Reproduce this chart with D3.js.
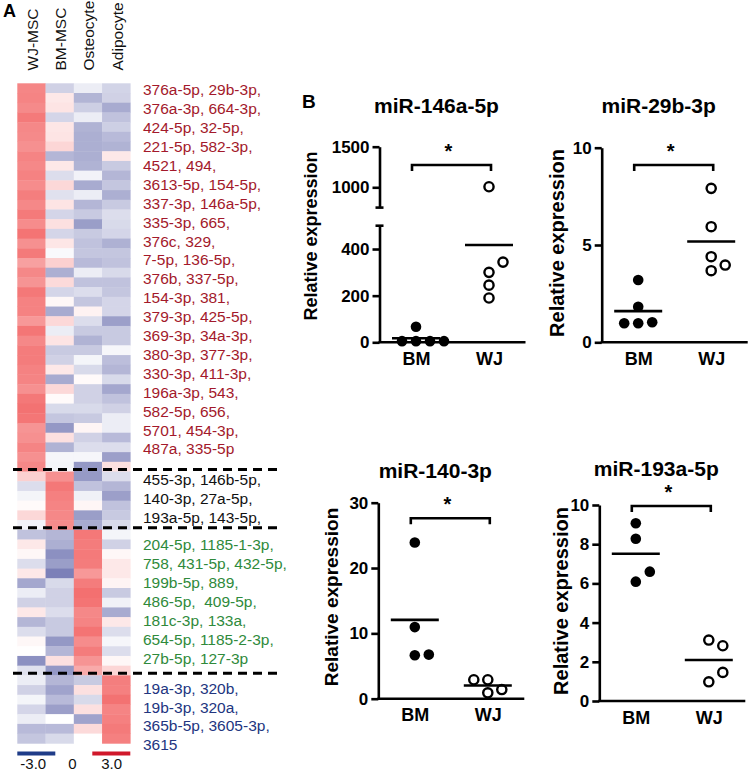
<!DOCTYPE html>
<html><head><meta charset="utf-8">
<script src="https://cdn.jsdelivr.net/npm/d3@7"></script>
<style>
body{margin:0;background:#fff;}
svg{display:block;font-family:"Liberation Sans",Arial,Helvetica,sans-serif;}
</style></head><body>
<svg id="chart" width="750" height="773"></svg>
<script>
// ---------------- DATA ----------------
const columns = ["WJ-MSC", "BM-MSC", "Osteocyte", "Adipocyte"];

// log-ratio values (-3..3) per miRNA row, 4 columns each
const heatRed = [
 [1.86,-0.79,-0.32,-0.75],[1.89,0.35,-1.29,-0.79],[1.80,0.42,-0.84,-1.46],[2.05,-0.72,-0.32,-1.06],
 [1.83,0.38,-1.32,-0.84],[1.80,0.42,-1.39,-1.19],[1.71,0.63,-1.39,-1.32],[1.89,-1.26,-1.39,0.35],
 [1.83,0.35,-1.32,-0.92],[1.92,-0.59,-0.22,-1.26],[1.77,0.60,-1.46,-0.99],[1.98,-0.52,-0.32,-1.39],
 [1.83,0.42,-1.26,-0.92],[2.05,-0.72,-0.92,-0.59],[1.77,0.48,-1.69,-0.65],[2.14,-0.72,-0.92,-0.72],
 [1.71,0.38,-1.06,-1.35],[2.05,-0.10,-0.99,-0.99],[1.46,0.72,-1.19,-1.06],[1.83,-1.39,-0.32,-0.65],
 [1.65,0.57,-1.06,-1.06],[2.08,-0.72,-0.59,-0.99],[1.92,0.12,-0.99,-0.72],[1.92,-1.46,0.20,-0.72],
 [1.58,0.60,-0.59,-1.66],[2.11,-0.32,-0.92,-0.92],[1.83,0.42,-1.32,-0.92],[2.02,-0.92,-0.92,-0.15],
 [2.02,-0.79,-0.18,-1.12],[1.92,0.35,-0.65,-1.26],[1.89,-1.46,0.08,-0.65],[1.71,0.60,-0.79,-1.53],
 [2.08,0.08,-0.79,-1.06],[2.17,-0.65,-0.65,-0.79],[2.11,-0.99,-0.92,-0.32],[1.65,-1.79,0.15,-0.32],
 [1.71,0.48,-0.79,-1.19],[1.89,-1.32,-0.59,-0.59],[1.71,-0.15,-0.15,-1.66],[1.83,-0.18,-1.79,0.48]
];
const heatBlack = [
 [0.72,1.71,-1.76,-0.59],[-0.59,2.08,-1.06,-1.26],[-0.18,1.95,-0.25,-1.66],
 [0.08,1.89,0.14,-1.06],[0.60,1.83,-1.69,-0.92],[-0.20,1.77,-1.46,-0.65]
];
const heatGreen = [
 [-1.06,-1.26,2.08,-0.18],[0.35,-1.39,2.02,-0.79],[0.12,-1.93,2.05,0.12],[-0.59,-1.69,2.02,0.35],
 [0.35,-2.20,1.58,0.35],[-1.53,-0.65,2.02,0.17],[-0.32,-0.79,2.20,-0.92],[-0.79,-0.79,2.14,-0.25],
 [0.35,-0.59,1.83,-1.46],[-1.26,-0.92,1.89,0.35],[-0.59,-0.92,2.14,-0.59],[0.12,-1.79,1.77,-0.15],
 [0.02,-1.26,2.02,-0.59],[-1.93,0.48,1.65,0.12],[-0.52,-1.79,1.31,0.63]
];
const heatBlue = [
 [-0.32,-1.26,-0.92,1.98],[-0.79,-1.59,0.48,1.95],[-0.18,-1.19,-0.65,2.17],[-0.72,-1.66,0.48,1.89],
 [-0.32,0.00,-1.59,1.95],[-1.19,-1.19,0.57,2.05],[-0.99,-0.65,0.00,1.95]
];

const redLabels = ["376a-5p, 29b-3p,","376a-3p, 664-3p,","424-5p, 32-5p,","221-5p, 582-3p,","4521, 494,",
 "3613-5p, 154-5p,","337-3p, 146a-5p,","335-3p, 665,","376c, 329,","7-5p, 136-5p,","376b, 337-5p,",
 "154-3p, 381,","379-3p, 425-5p,","369-3p, 34a-3p,","380-3p, 377-3p,","330-3p, 411-3p,","196a-3p, 543,",
 "582-5p, 656,","5701, 454-3p,","487a, 335-5p"];
const blackLabels = ["455-3p, 146b-5p,","140-3p, 27a-5p,","193a-5p, 143-5p,"];
const greenLabels = ["204-5p, 1185-1-3p,","758, 431-5p, 432-5p,","199b-5p, 889,","486-5p,  409-5p,",
 "181c-3p, 133a,","654-5p, 1185-2-3p,","27b-5p, 127-3p"];
const blueLabels = ["19a-3p, 320b,","19b-3p, 320a,","365b-5p, 3605-3p,","3615"];

const legendValues = [-3, 0, 3];
const legendLabels = ["-3.0", "0", "3.0"];

const plotTitles = ["miR-146a-5p", "miR-29b-3p", "miR-140-3p", "miR-193a-5p"];
const groupsBW = ["BM", "WJ"];
const bm146 = [67, 5, 5, 5, 5];
const wj146 = [1007, 300, 344, 245, 190];
const bm29 = [3.2, 1.83, 0.98, 1.03, 0.98];
const wj29 = [7.91, 5.94, 3.68, 3.97, 4.40];
const bm140 = [23.9, 10.96, 6.65, 6.75];
const wj140 = [0.9, 1.4, 2.9, 2.9];
const bm193 = [9.07, 8.28, 6.09, 6.6];
const wj193 = [0.98, 1.46, 3.11, 2.82];
const ticks146Low = [0, 200, 400];
const ticks146High = [1000, 1500];
const ticks29 = [0, 5, 10];
const ticks140 = [0, 10, 20, 30];
const ticks193 = [0, 2, 4, 6, 8, 10];

// ---------------- LAYOUT ----------------
const svg = d3.select("#chart");
const FONT = '"Liberation Sans",Arial,Helvetica,sans-serif';

// Panel labels
svg.append("text").attr("x", 3).attr("y", 17).attr("font-size", 18).attr("font-weight", "bold").text("A");
svg.append("text").attr("x", 302).attr("y", 108).attr("font-size", 19).attr("font-weight", "bold").text("B");

// ---- Heatmap ----
const heatGroups = [heatRed, heatBlack, heatGreen, heatBlue];
const rows = heatGroups.flat();
const xH = d3.scaleBand().domain(columns).range([17.3, 130.3]);
const yH = d3.scaleBand().domain(d3.range(rows.length)).range([83.3, 743.3]);
const color = d3.scaleLinear().domain([-3, 0, 3]).range(["#4c529e", "#ffffff", "#ef3c3c"]).clamp(true);

const cells = [];
rows.forEach((r, i) => r.forEach((v, j) => cells.push({i, c: columns[j], v})));
svg.append("g").selectAll("rect").data(cells).join("rect")
  .attr("x", d => xH(d.c)).attr("y", d => yH(d.i))
  .attr("width", xH.bandwidth() + 0.3).attr("height", yH.bandwidth() + 0.4)
  .attr("fill", d => color(d.v));

// column headers
svg.append("g").selectAll("text").data(columns).join("text")
  .attr("transform", d => `translate(${xH(d) + xH.bandwidth() / 2 + 6.5},70.5) rotate(-90)`)
  .attr("font-size", 15.5).attr("fill", "#111").text(d => d);

// group separators
const bounds = d3.cumsum(heatGroups.map(g => g.length)).slice(0, 3);
svg.append("g").selectAll("line").data(bounds).join("line")
  .attr("x1", 13).attr("x2", 278)
  .attr("y1", d => yH(d) - 2).attr("y2", d => yH(d) - 2)
  .attr("stroke", "#000").attr("stroke-width", 3).attr("stroke-dasharray", "9,6");

// row labels
const labelSets = [
  {lines: redLabels, color: "#a3192b", start: 90},
  {lines: blackLabels, color: "#111111", start: 480},
  {lines: greenLabels, color: "#2f8a3b", start: 545},
  {lines: blueLabels, color: "#22357f", start: 688.3}
];
labelSets.forEach(s => {
  svg.append("g").selectAll("text").data(s.lines).join("text")
    .attr("x", 143).attr("y", (d, i) => s.start + i * 18.9 + 5.3)
    .attr("font-size", 15.5).attr("fill", s.color).attr("xml:space", "preserve")
    .text(d => d);
});

// colour legend
const legX = d3.scaleLinear().domain([-3, 3]).range([33.3, 111.7]);
svg.append("rect").attr("x", xH.range()[0]).attr("y", 751.5).attr("width", 38).attr("height", 4).attr("fill", "#1f3c88");
svg.append("rect").attr("x", xH.range()[1] - 38).attr("y", 751.5).attr("width", 38).attr("height", 4).attr("fill", "#d0182b");
svg.append("g").selectAll("text").data(legendValues).join("text")
  .attr("x", d => legX(d)).attr("y", 768.5).attr("text-anchor", "middle")
  .attr("font-size", 15).attr("fill", "#111").text((d, i) => legendLabels[i]);

// ---- Scatter plots ----
function dodge(vals, yf, step, minD) {
  const placed = [];
  return vals.map(v => {
    const y = yf(v);
    for (let k = 0; k < 30; k++) {
      const off = k === 0 ? 0 : (k % 2 ? 1 : -1) * Math.ceil(k / 2) * step;
      if (placed.every(p => Math.hypot(p.dx - off, p.y - y) >= minD)) {
        placed.push({dx: off, y});
        return {v, y, dx: off};
      }
    }
  });
}

const plots = [
  {title: plotTitles[0], bm: bm146, wj: wj146, x0: 379.5, y0: 342.3, titleY: 112.5, bracketY: 165,
   labelX: 311, labelY: 236, labelFs: 18, broken: true},
  {title: plotTitles[1], bm: bm29, wj: wj29, ticks: ticks29, domain: [0, 10], x0: 601.7, y0: 342.3, yTop: 147.7,
   titleY: 113, bracketY: 165, labelX: 557, labelY: 243, labelFs: 20},
  {title: plotTitles[2], bm: bm140, wj: wj140, ticks: ticks140, domain: [0, 30], x0: 378.3, y0: 698.7, yTop: 502.7,
   titleY: 477.5, bracketY: 518.3, labelX: 331, labelY: 597, labelFs: 19},
  {title: plotTitles[3], bm: bm193, wj: wj193, ticks: ticks193, domain: [0, 10], x0: 599.3, y0: 701, yTop: 505,
   titleY: 476, bracketY: 506, labelX: 561, labelY: 601, labelFs: 20}
];

const SW = 2.6;
const fmt = d3.format("d");
plots.forEach(p => {
  const g = svg.append("g");
  const xs = d3.scalePoint().domain(groupsBW).range([p.x0, p.x0 + 146]).padding(0.5);
  let yf;
  if (p.broken) {
    const yLow = d3.scaleLinear().domain([0, 500]).range([p.y0, 225.7]);
    const yHigh = d3.scaleLinear().domain([750, 1500]).range([207.6, 146.7]);
    yf = v => v <= 500 ? yLow(v) : yHigh(v);
    const aLow = g.append("g").attr("transform", `translate(${p.x0},0)`)
      .call(d3.axisLeft(yLow).tickValues(ticks146Low).tickFormat(fmt).tickSize(7).tickSizeOuter(0).tickPadding(3));
    const aHigh = g.append("g").attr("transform", `translate(${p.x0},0)`)
      .call(d3.axisLeft(yHigh).tickValues(ticks146High).tickFormat(fmt).tickSize(7).tickSizeOuter(0).tickPadding(3));
    [aLow, aHigh].forEach(a => styleAxis(a));
    // break caps
    [yLow(500), yHigh(750)].forEach(yy => g.append("line")
      .attr("x1", p.x0 - 4).attr("x2", p.x0 + 4).attr("y1", yy).attr("y2", yy)
      .attr("stroke", "#000").attr("stroke-width", SW));
  } else {
    const ys = d3.scaleLinear().domain(p.domain).range([p.y0, p.yTop]);
    yf = ys;
    const a = g.append("g").attr("transform", `translate(${p.x0},0)`)
      .call(d3.axisLeft(ys).tickValues(p.ticks).tickFormat(fmt).tickSize(7).tickSizeOuter(0).tickPadding(3));
    styleAxis(a);
  }
  // x axis
  const ax = g.append("g").attr("transform", `translate(0,${p.y0})`)
    .call(d3.axisBottom(xs).tickSize(0).tickSizeOuter(0).tickPadding(10));
  ax.select(".domain").attr("stroke-width", SW).attr("d", `M${p.x0 - 1},0H${p.x0 + 146}`);
  ax.selectAll("text").attr("font-size", 18).attr("font-weight", "bold").attr("fill", "#000")
    .attr("font-family", FONT);

  // points
  const sets = [{k: "BM", vals: p.bm, filled: true}, {k: "WJ", vals: p.wj, filled: false}];
  sets.forEach(s => {
    const pts = dodge(s.vals, yf, 14, 12);
    g.append("g").selectAll("circle").data(pts).join("circle")
      .attr("cx", d => xs(s.k) + d.dx).attr("cy", d => d.y)
      .attr("r", s.filled ? 5.3 : 4.6)
      .attr("fill", s.filled ? "#000" : "#fff")
      .attr("stroke", "#000").attr("stroke-width", s.filled ? 0 : 2.4);
    const m = d3.mean(s.vals);
    g.append("line").attr("x1", xs(s.k) - 24).attr("x2", xs(s.k) + 24)
      .attr("y1", yf(m)).attr("y2", yf(m)).attr("stroke", "#000").attr("stroke-width", SW);
  });

  // bracket + star
  const bx1 = xs("BM") - 4, bx2 = xs("WJ") + 2;
  g.append("path").attr("d", `M${bx1},${p.bracketY + 6}V${p.bracketY}H${bx2}V${p.bracketY + 6}`)
    .attr("fill", "none").attr("stroke", "#000").attr("stroke-width", SW);
  g.append("text").attr("x", (bx1 + bx2) / 2 - 3).attr("y", p.bracketY - 7)
    .attr("text-anchor", "middle").attr("font-size", 20).attr("font-weight", "bold").text("*");

  // title
  g.append("text").attr("x", p.x0 + 57).attr("y", p.titleY).attr("text-anchor", "middle")
    .attr("font-size", 21).attr("font-weight", "bold").text(p.title);
  // y label
  g.append("text").attr("transform", `translate(${p.labelX + p.labelFs * 0.36},${p.labelY}) rotate(-90)`)
    .attr("text-anchor", "middle").attr("font-size", p.labelFs).attr("font-weight", "bold")
    .text("Relative expression");
});

function styleAxis(a) {
  a.select(".domain").attr("stroke-width", SW).attr("stroke", "#000");
  a.selectAll(".tick line").attr("stroke-width", SW).attr("stroke", "#000");
  a.selectAll(".tick text").attr("font-size", 17).attr("font-weight", "bold").attr("fill", "#000")
    .attr("font-family", FONT);
}
</script>
</body></html>
